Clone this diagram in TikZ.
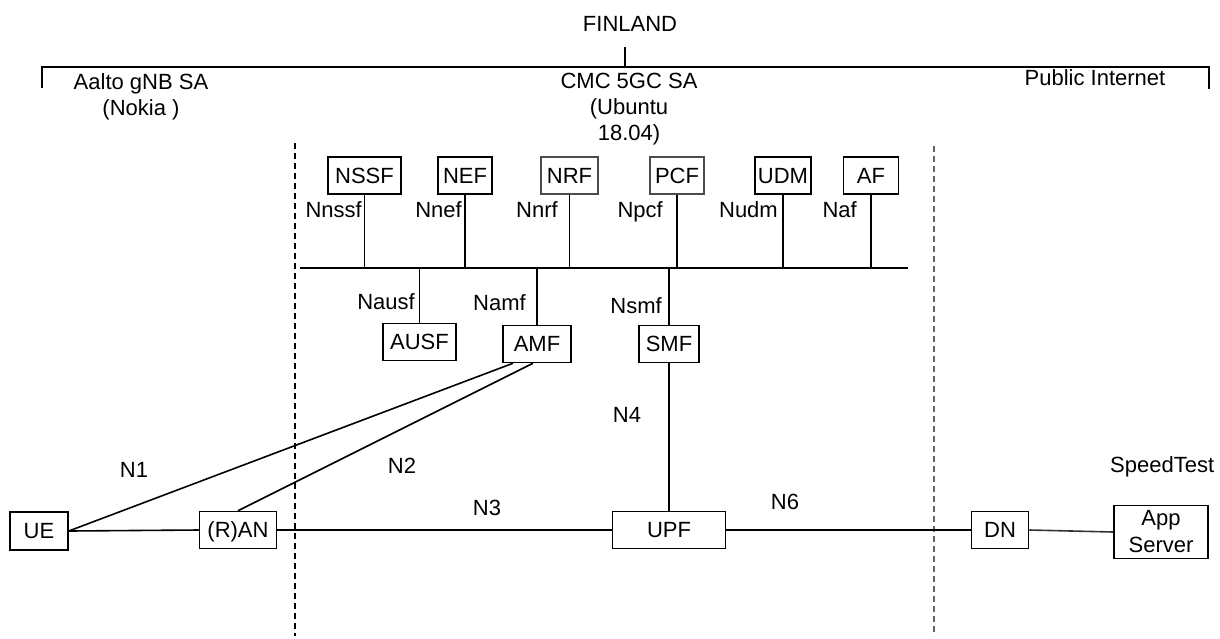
\documentclass[tikz,border=0pt]{standalone}
\usepackage{fontspec}
\setmainfont{Liberation Sans}
\newcommand{\nffont}{\fontsize{22}{26}\selectfont}
\begin{document}
\begin{tikzpicture}[x=1pt,y=-1pt,
  nfbox/.style={draw,line width=1.5pt,inner sep=0pt,minimum height=37pt,
    text height=15.5pt,text depth=0pt,font=\nffont},
  lbl/.style={inner sep=0pt,text height=15.5pt,text depth=0pt,font=\nffont},
  link/.style={line width=1.6pt},
  sep/.style={line width=1.4pt,dash pattern=on 6pt off 4pt}]
\useasboundingbox (0,0) rectangle (1220,638);
% Drawing country bracket
\draw[line width=2.8pt] (42,88) -- (42,67) -- (1209,67) -- (1209,89);
\draw[line width=2.8pt] (625,47) -- (625,67);
\node[lbl] (finland) at (630,24) {FINLAND};
\node[inner sep=0pt,align=center,font=\nffont] (aalto) at (141,97) {Aalto gNB SA\\(Nokia )};
\node[inner sep=0pt,align=center,font=\nffont] (cmc) at (629,109) {CMC 5GC SA\\(Ubuntu\\18.04)};
\node[lbl] (internet) at (1095,78) {Public Internet};
% Domain separators
\draw[sep] (295,143) -- (295,636);
\draw[sep,black!60] (934,146) -- (934,636);
% Service bus
\coordinate (busL) at (300,268);
\coordinate (busR) at (908,268);
\draw[link] (busL) -- (busR);
% Upper network functions
\node[nfbox,minimum width=73pt] (nssf) at (364.5,175.5) {NSSF};
\node[nfbox,minimum width=54pt] (nef) at (465,175.5) {NEF};
\node[nfbox,minimum width=57pt,draw=black!70] (nrf) at (569.5,175.5) {NRF};
\node[nfbox,minimum width=54pt,draw=black!70] (pcf) at (677,175.5) {PCF};
\node[nfbox,minimum width=56pt] (udm) at (783,175.5) {UDM};
\node[nfbox,minimum width=55pt] (af) at (871,175.5) {AF};
\draw[link] (nssf.south) -- (nssf.south |- busL);
\draw[link] (nef.south) -- (nef.south |- busL);
\draw[link] (nrf.south) -- (nrf.south |- busL);
\draw[link] (pcf.south) -- (pcf.south |- busL);
\draw[link] (udm.south) -- (udm.south |- busL);
\draw[link] (af.south) -- (af.south |- busL);
\node[lbl,anchor=east] (nnssf) at (362,210) {Nnssf};
\node[lbl,anchor=east] (nnef) at (462,210) {Nnef};
\node[lbl,anchor=east] (nnrf) at (558,210) {Nnrf};
\node[lbl,anchor=east] (npcf) at (663,210) {Npcf};
\node[lbl,anchor=east] (nudm) at (778,210) {Nudm};
\node[lbl,anchor=east] (naf) at (857,210) {Naf};
% Lower network functions
\node[nfbox,minimum width=73pt] (ausf) at (419.5,342) {AUSF};
\node[nfbox,minimum width=68pt] (amf) at (537,344) {AMF};
\node[nfbox,minimum width=60pt] (smf) at (669,344) {SMF};
\draw[link] (ausf.north |- busL) -- (ausf.north);
\draw[link] (amf.north |- busL) -- (amf.north);
\draw[link] (smf.north |- busL) -- (smf.north);
\node[lbl,anchor=east] (nausf) at (415,302) {Nausf};
\node[lbl,anchor=east] (namf) at (526,303) {Namf};
\node[lbl,anchor=east] (nsmf) at (662,306) {Nsmf};
% User plane
\node[nfbox,minimum width=58pt,minimum height=38pt] (ue) at (39,531) {UE};
\node[nfbox,minimum width=77pt] (ran) at (238,530) {(R)AN};
\node[nfbox,minimum width=113pt] (upf) at (669,530) {UPF};
\node[nfbox,minimum width=57pt] (dn) at (1000,530) {DN};
\node[draw,line width=1.5pt,inner sep=0pt,minimum width=94pt,minimum height=53pt,
  align=center,font=\fontsize{22}{27}\selectfont] (app) at (1161,532) {App\\Server};
\node[lbl,anchor=west] (speedtest) at (1110,465) {SpeedTest};
\draw[link] (ue.east) -- (ran.west);
\draw[link] (ue.east) -- ([xshift=-24pt]amf.south);
\draw[link] (ran.north) -- ([xshift=-4pt]amf.south);
\draw[link] (ran.east) -- (upf.west);
\draw[link] (smf.south) -- (smf.south |- upf.north);
\draw[link] (upf.east) -- (dn.west);
\draw[link,black!80] (dn.east) -- (app.west);
% Interface labels
\node[lbl] (n1) at (134,470) {N1};
\node[lbl] (n2) at (402,466) {N2};
\node[lbl] (n3) at (487,508) {N3};
\node[lbl] (n4) at (627,415) {N4};
\node[lbl] (n6) at (785,502) {N6};
\end{tikzpicture}
\end{document}
